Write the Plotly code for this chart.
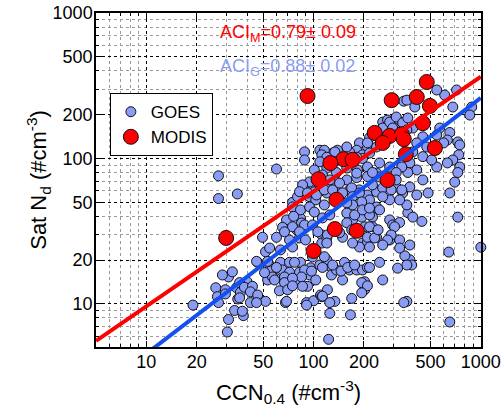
import numpy as np
import plotly.graph_objects as go

# GOES retrievals: CCN at 0.4% SS vs satellite droplet number (both #/cm3)
goes_ccn = [19, 26, 26.6, 27, 29.7, 29.7, 31, 32.7, 34.6, 35.2, 33.7, 31, 30.5, 38, 40, 36.5, 28.5,
            27, 27, 35,
            51.6, 46.3, 54.6, 63.4, 71.8, 55.4, 65.2, 71.8, 53.1, 59.2, 67, 67, 62.5, 70, 36.1, 38.6,
            43.1, 41.9, 46.3, 51.6, 36.1, 41.9, 37.5, 67.9, 82.4, 83.5, 82.4, 92, 94.6, 95.9, 98.6,
            109, 103, 90.8, 100, 110,
            74.8, 68.9, 83.5, 84.7, 65.2, 79.1, 60, 71.8, 82.4, 112, 112, 120, 149, 171, 194, 225,
            238, 202, 225, 238, 196, 210, 285, 297, 327, 366, 392, 444, 361, 285, 327, 376, 376, 351,
            386, 728, 643, 1000, 49.5, 45.6, 53.1, 60, 56.8, 50.9, 58.4, 76.9, 88.3, 84.7, 74.8, 74.8,
            85.9, 97.2, 120, 128, 128, 137, 153, 164, 181, 196, 210, 248, 202, 202, 259, 361, 149,
            68.9, 90.8, 112, 121, 134, 169, 125, 166, 123, 45.6, 361, 652,
            116, 113, 130, 146, 160, 176, 216, 318, 194, 210, 194, 113, 125, 346,
            60, 94.6, 88.3, 101, 80.2, 94.6, 103, 74.8, 83.5, 94.6, 101, 76, 88.3, 74.8, 67, 82.4,
            74.8, 54.6, 63.4, 98.6, 106, 89.5,
            88.3, 109,
            346, 259, 277, 318, 337, 305, 259, 216, 210, 188, 181, 164, 158, 139, 130, 116, 112, 196,
            882, 680, 716, 608, 545, 361, 403, 859, 285, 312, 341, 366, 392, 361, 297, 568, 545, 652,
            631, 599, 450, 475, 414, 392, 450, 728, 748, 738, 680, 631, 545, 508, 414, 376, 366, 337,
            748, 698, 728, 652, 484, 238, 210, 216, 196, 181, 158, 143, 134, 120, 109, 88.3, 101, 120,
            137, 158, 183, 210, 248, 285, 312, 238, 210, 181, 158, 137, 120, 109, 94.6, 85.9, 82.4,
            92, 104, 120, 137, 164, 188, 210, 238, 259, 312, 341, 376, 414, 450,
            113, 125, 116, 130, 143, 149, 169, 171, 188, 225, 248, 225, 181, 312, 337, 291, 327, 285,
            259, 216, 194, 171, 158, 116, 113, 125, 158, 176, 216, 196, 216, 248, 158, 169, 143, 121,
            216, 210, 232, 243, 305, 291, 277, 259, 327, 216, 188, 171, 120]
goes_nd = [9.8, 12.9, 11.2, 10.2, 12.5, 11.7, 15.3, 16.6, 12.9, 10.8, 9.0, 7.8, 6.4, 8.3, 14.2, 12.0, 15.8,
           76, 53, 57,
           22.8, 19.3, 18.5, 19.3, 19.3, 16.8, 17.1, 16.5, 14.6, 15.0, 15.3, 14.0, 12.3, 12.5, 14.0, 13.0,
           13.2, 12.1, 11.5, 10.4, 11.0, 10.2, 8.9, 10.2, 16.5, 19.3, 14.0, 13.2, 15.8, 17.7, 21.0,
           18.5, 14.6, 10.2, 10.5, 11.5,
           49.9, 37.8, 38.9, 36.0, 33.6, 32.3, 28.7, 27.5, 28.4, 29.8, 26.2, 28.4, 28.7, 37.8, 39.5, 39.5,
           46.4, 33.9, 33.9, 28.7, 26.2, 26.6, 37.8, 34.9, 36.3, 42.4, 39.5, 36.9, 47.9, 27.5, 27.5, 25.4,
           20.1, 21.4, 18.5, 39.5, 22.7, 24.5, 28.7, 19.6, 19.6, 17.8, 15.3, 16.4, 14.6, 19.3, 17.1, 15.3,
           15.0, 13.3, 13.2, 16.8, 20.1, 17.8, 15.8, 17.1, 19.3, 17.1, 17.1, 17.1, 17.8, 19.3, 14.2, 12.5,
           14.6, 18.5, 14.6, 10.4, 9.8, 11.2, 12.5, 10.4, 10.9, 8.6, 8.4, 5.7, 10.2, 10.4, 7.5,
           21.1, 17.8, 18.5, 16.8, 17.8, 18.5, 17.8, 17.6, 14.0, 13.3, 11.9, 11.3, 10.2, 10.2,
           84.6, 65.8, 60.8, 59, 54.6, 54.6, 51.9, 46.4, 44.3, 46.4, 42.8, 40, 34.9, 33.9, 31.3, 31.3,
           24.6, 24.2, 23.5, 34.9, 31.3, 27.5,
           111, 114,
           248, 178, 184, 184, 164, 162, 162, 139, 120, 128, 114, 111, 120, 114, 109, 114, 106, 106,
           226, 226, 296, 273, 296, 252, 226, 199, 178, 193, 176, 190, 162, 157, 162, 162, 145, 151,
           134, 128, 141, 120, 128, 111, 103, 130, 124, 106, 97.7, 93.2, 87.4, 97.7, 83.4, 93.2, 80.1, 87.4,
           87.4, 68.8, 80.1, 57.9, 57.9, 120, 128, 109, 100, 102, 97.7, 102, 111, 102, 94.9, 97.7, 83.4, 86,
           80.1, 86, 83.4, 87.4, 93.2, 87.4, 80.1, 79.3, 75.1, 73.9, 71.2, 69, 69, 65.8, 69, 65.8, 59.1,
           58, 56.1, 57.9, 58.9, 60.8, 60.8, 56.1, 58.9, 62.8, 63.7, 57.9, 63.7, 56.1, 71.2,
           77.1, 71.2, 60.8, 60.8, 67.7, 58, 62.8, 54.6, 57.9, 65.8, 74.6, 80.1, 79.3, 71.2, 60.8, 60.8, 51.9, 51.9,
           54.6, 51.9, 50.3, 47.9, 49.5, 47.9, 39.0, 40.9, 42.1, 40.9, 40.9, 44.3, 45.6, 44.3, 36.1, 32.3, 30.9, 29.8,
           33.9, 28.7, 28.4, 32.3, 33.9, 29.8, 27.5, 25.4, 24.2, 24.6, 24.6, 26.2, 26.2]

# MODIS retrievals
modis_ccn = [92, 30, 293, 414, 475, 496, 450, 232, 285, 337, 259, 346, 356, 531,
             151, 126, 171, 107, 277, 137, 134, 181, 100]
modis_nd = [269, 28.4, 252, 265, 336, 230, 175, 150, 143, 147, 128, 136, 107, 118,
            99, 93, 98, 72, 71, 52, 32.7, 31.8, 23.1]

# power-law fits  Nd = a * CCN^ACI
aci_m, aci_m_err, fit_m_a = 0.79, 0.09, 1.56
aci_g, aci_g_err, fit_g_a = 0.88, 0.02, 0.598
fit_x = [5, 1000]

tick_vals = [10, 20, 50, 100, 200, 500, 1000]
tick_text = ['10', '20', '50', '100', '200', '500', '1000']
minor_vals = [6, 7, 8, 9, 30, 40, 60, 70, 80, 90, 300, 400, 600, 700, 800, 900]

goes_col = '#8a9cf4'

fig = go.Figure()
fig.add_trace(go.Scatter(x=goes_ccn, y=goes_nd, mode='markers', name='GOES', cliponaxis=False,
                         marker=dict(size=10, color=goes_col, line=dict(color='#111', width=1))))
fig.add_trace(go.Scatter(x=modis_ccn, y=modis_nd, mode='markers', name='MODIS',
                         marker=dict(size=15, color='#ff0000', line=dict(color='#111', width=1))))

fx = np.array(fit_x, dtype=float)
fig.add_trace(go.Scatter(x=fx, y=fit_m_a * fx ** aci_m, mode='lines', showlegend=False,
                         line=dict(color='#ff0000', width=4)))
fig.add_trace(go.Scatter(x=fx, y=fit_g_a * fx ** aci_g, mode='lines', showlegend=False,
                         line=dict(color='#1450f0', width=4)))

axis_style = dict(type='log', tickvals=tick_vals, ticktext=tick_text, ticks='inside', ticklen=6,
                  tickcolor='black', mirror='allticks', showline=True, linecolor='black', linewidth=1.5,
                  showgrid=True, gridcolor='black', griddash='dot', gridwidth=1, zeroline=False,
                  automargin=False, ticklabeloverflow='allow',
                  minor=dict(tickvals=minor_vals, ticks='inside', ticklen=3, tickcolor='black',
                             showgrid=True, gridcolor='#9a9a9a', griddash='dot', gridwidth=1))

fig.update_xaxes(range=[np.log10(5), 3.001], ticklabelstandoff=-2,
                 title=dict(text='CCN<sub>0.4</sub> (#cm<sup>-3</sup>)', standoff=13), **axis_style)
fig.update_yaxes(range=[0.703, 3.001], ticklabelstandoff=-2,
                 title=dict(text='Sat N<sub>d</sub> (#cm<sup>-3</sup>)', standoff=0), **axis_style)

fig.add_annotation(xref='paper', yref='paper', x=0.317, y=0.94, xanchor='left', yanchor='middle',
                   text=f'ACI<sub>M</sub>={aci_m:.2f}\u00b1 {aci_m_err:.2f}', showarrow=False,
                   font=dict(color='#ff0000', size=18))
fig.add_annotation(xref='paper', yref='paper', x=0.317, y=0.838, xanchor='left', yanchor='middle',
                   text=f'ACI<sub>G</sub>={aci_g:.2f}\u00b1 {aci_g_err:.2f}', showarrow=False,
                   font=dict(color=goes_col, size=18))

fig.update_layout(width=502, height=412, margin=dict(l=96, r=21, t=13, b=65),
                  plot_bgcolor='white', paper_bgcolor='white',
                  font=dict(family='Liberation Sans, Arial, sans-serif', size=18, color='black'),
                  legend=dict(x=0.036, y=0.76, xanchor='left', yanchor='top', bgcolor='white',
                              bordercolor='black', borderwidth=1, font=dict(size=17)))

# page body has a default 8px margin; drop it so the figure sits at the window corner
fig.write_html("out.html", config={'displayModeBar': False},
               post_script="document.body.style.margin='0';")
